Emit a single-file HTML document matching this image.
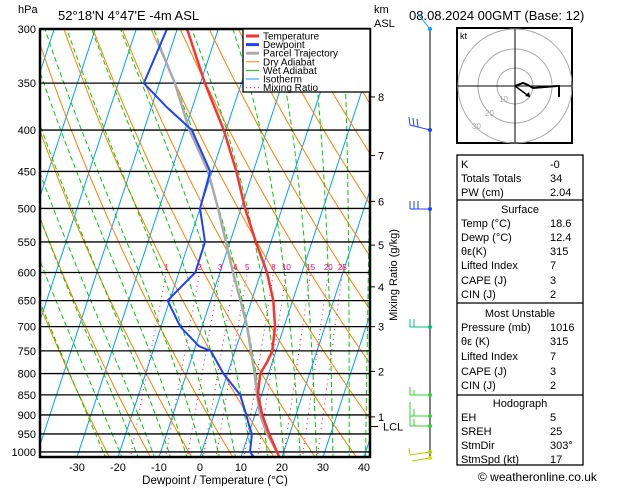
<!DOCTYPE html>
<html><head><meta charset="utf-8"><style>
body{margin:0;background:#fff;width:629px;height:486px;overflow:hidden}
svg text{font-family:"Liberation Sans",sans-serif}
</style></head><body>
<svg id="c" width="629" height="486" xmlns="http://www.w3.org/2000/svg">
<defs><clipPath id="plot"><rect x="40" y="29" width="330" height="428"/></clipPath></defs>
<g id="bg" clip-path="url(#plot)"></g>
<g id="fg"></g>
</svg>
<script>
const pressures=[1015,1000,950,900,850,800,775,750,700,650,600,550,500,450,400,350,300];
const tempVals=[19.3,18.4,15.0,11.8,9.1,8.0,8.7,9.1,7.8,5.3,1.5,-3.7,-9.0,-14.1,-20.5,-28.9,-37.6];
const dewP=[1015,1000,950,925,900,850,800,750,740,700,650,600,550,500,450,400,375,350,300];
const dewVals=[13.2,11.8,10.8,9.3,7.9,4.8,-1.0,-5.9,-9.2,-15.3,-20.5,-16.0,-16.1,-20.0,-20.5,-28.3,-36.2,-43.8,-42.5];
const parcelP=[1015,1000,950,900,850,800,700,650,600,550,500,450,400,350,310];
const parcelVals=[19.3,18.4,14.5,11.3,8.9,6.6,1.0,-2.7,-6.8,-11,-15.6,-21,-28.9,-36.2,-44];
const pTicks=[300,350,400,450,500,550,600,650,700,750,800,850,900,950,1000];
const tTicks=[-30,-20,-10,0,10,20,30,40];
const mixRatios=[1,2,3,4,5,8,10,15,20,25];
const kmLabels=[8,7,6,5,4,3,2,1];
const kmPress=[364,430,490,555,625,700,795,905];

const NS="http://www.w3.org/2000/svg";
const bg=document.getElementById('bg'),fg=document.getElementById('fg');
function yP(p){return 29+351.3*Math.log(p/300);}
function xT(t,p){return 200+4.1*t+0.33*(457-yP(p));}
function mk(par,tag,at){const e=document.createElementNS(NS,tag);for(const k in at)e.setAttribute(k,at[k]);par.appendChild(e);return e;}
function poly(par,pts,stroke,w,dash,name){const e=mk(par,'polyline',{points:pts.map(q=>q[0].toFixed(1)+','+q[1].toFixed(1)).join(' '),fill:'none',stroke:stroke,'stroke-width':w});if(dash)e.setAttribute('stroke-dasharray',dash);

return e;}
function txt(par,x,y,s,size,fill,anchor,name){const e=mk(par,'text',{x:x,y:y,'font-size':size,fill:fill||'#000','text-anchor':anchor||'start'});e.textContent=s;

return e;}
const levels=[];for(let p=1020;p>=295;p-=5)levels.push(p);
// isotherms
for(let t=-120;t<=50;t+=10){poly(bg,[[xT(t,1020),yP(1020)],[xT(t,295),yP(295)]],'#00a0ff',1,null,'isotherm');}
// dry adiabats
for(let th=250;th<=470;th+=10){poly(bg,levels.map(p=>[xT(th*Math.pow(p/1000,0.286)-273.15,p),yP(p)]),'#ff8000',1,null,'dry-adiabat');}
// wet adiabats
function es(t){return 6.112*Math.exp(17.67*t/(t+243.5));}
function moistLine(t0){const out=[];let T=t0+273.15;let p=1020;
 // first integrate from 1000 to 1020 approx
 const step=-2;let pts=[];
 function dTdp(T,p){const rs=0.622*es(T-273.15)/(p-es(T-273.15));const Rd=287,cp=1004,L=2.5e6;return (Rd*T+L*rs)/(p*(cp+L*L*rs*0.622/(Rd*T*T)));}
 // start at 1000
 T=t0+273.15;let Tb=T;for(let q=1000;q<1020;q+=2){Tb+=dTdp(Tb,q)*2;}
 pts.push([1020,Tb]);T=t0+273.15;pts.push([1000,T]);
 for(p=1000;p>295;p+=step){T+=dTdp(T,p)*step;pts.push([p+step,T]);}
 return pts.map(q=>[xT(q[1]-273.15,q[0]),yP(q[0])]);}
for(let t=-24;t<=40;t+=4){poly(bg,moistLine(t),'#00cc00',1,'5,3','wet-adiabat');}
// mixing ratio
function tdW(w,p){const e=w*p/(622+w);const l=Math.log(e/6.112);return 243.5*l/(17.67-l);}
mixRatios.forEach(w=>{poly(bg,[[xT(tdW(w,1020),1020),yP(1020)],[xT(tdW(w,600),600),yP(600)]],'#ff0080',1,'1,4','mixing-ratio-line');
 txt(fg,xT(tdW(w,600),600),270,String(w),8,'#ff0080','middle','mixing-ratio-label');});
// pressure lines
pTicks.forEach(p=>{const l=mk(fg,'line',{x1:40,x2:370,y1:yP(p),y2:yP(p),stroke:'#000','stroke-width':1.3});


 txt(fg,36,yP(p)+4,String(p),11,'#000','end','pressure-label');});
// profiles
poly(fg,parcelP.map((p,i)=>[xT(parcelVals[i],p),yP(p)]),'#aaaaaa',2.5,null,'parcel-trajectory');
poly(fg,pressures.map((p,i)=>[xT(tempVals[i],p),yP(p)]),'#ff3030',2.5,null,'temperature-line');
poly(fg,dewP.map((p,i)=>[xT(dewVals[i],p),yP(p)]),'#2040ff',2,null,'dewpoint-line');
// frame
const fr=mk(fg,'rect',{x:40,y:29,width:330,height:428,fill:'none',stroke:'#000','stroke-width':2.5});


tTicks.forEach(t=>{txt(fg,xT(t,1015),471,String(t),11,'#000','middle','x-tick-label');});
txt(fg,215,484,'Dewpoint / Temperature (°C)',11.5,'#000','middle','x-axis-title');
kmLabels.forEach((k,i)=>{const y=yP(kmPress[i]);const l=mk(fg,'line',{x1:370,x2:375,y1:y,y2:y,stroke:'#000'});


 txt(fg,378,y+4,String(k),11,'#000','start','km-label');});
{const y=yP(930);const l=mk(fg,'line',{x1:370,x2:378,y1:y,y2:y,stroke:'#000'});


txt(fg,383,y+4,'LCL',11,'#000','start','lcl-label');}
const mr=txt(fg,0,0,'Mixing Ratio (g/kg)',11,'#000','middle','mixing-ratio-axis-title');mr.setAttribute('transform','translate(397,275) rotate(-90)');
// legend
const lg=mk(fg,'g',{});
mk(lg,'rect',{x:243,y:29,width:127,height:63,fill:'#fff',stroke:'#000','stroke-width':1.3});
const legN=['Temperature','Dewpoint','Parcel Trajectory','Dry Adiabat','Wet Adiabat','Isotherm','Mixing Ratio'];
const legC=['#ff3030','#2040ff','#aaaaaa','#ff8000','#00cc00','#00a0ff','#ff0080'];
const legW=[3,3,3,1,1,1,1];
legN.forEach((n,i)=>{const y=36+i*8.6;const l=mk(lg,'line',{x1:246,x2:259,y1:y,y2:y,stroke:legC[i],'stroke-width':legW[i]});if(i==6)l.setAttribute('stroke-dasharray','1,3');


 txt(lg,263,y+3.5,n,10,'#000','start','legend-entry');});
</script>
<svg width="629" height="486" style="position:absolute;left:0;top:0" xmlns="http://www.w3.org/2000/svg">
<g font-family="Liberation Sans, sans-serif">
<text x="18" y="13" font-size="11">hPa</text>
<text x="58" y="20" font-size="13">52°18'N  4°47'E  -4m  ASL</text>
<text x="374" y="13" font-size="11">km</text>
<text x="374" y="27" font-size="11">ASL</text>
<text x="409" y="20" font-size="13">08.08.2024  00GMT  (Base: 12)</text>
<text x="478" y="481" font-size="12">© weatheronline.co.uk</text>
</g>
<g>
<line x1="430" y1="28" x2="430" y2="458" stroke="#000" stroke-width="1"/>
<line x1="430" y1="29" x2="418" y2="14" stroke="#00a0ff"/><circle cx="430" cy="29" r="2" fill="#00a0ff"/>
<line x1="430" y1="130" x2="410" y2="125" stroke="#2040ff"/><line x1="410" y1="125" x2="409" y2="117" stroke="#2040ff"/><line x1="414" y1="126" x2="413" y2="118" stroke="#2040ff"/><line x1="418" y1="127" x2="417" y2="119" stroke="#2040ff"/><circle cx="430" cy="130" r="2" fill="#2040ff"/>
<line x1="430" y1="209" x2="410" y2="209" stroke="#2040ff"/><line x1="410" y1="209" x2="410" y2="201" stroke="#2040ff"/><line x1="414" y1="209" x2="414" y2="201" stroke="#2040ff"/><line x1="418" y1="209" x2="418" y2="201" stroke="#2040ff"/><circle cx="430" cy="209" r="2" fill="#2040ff"/>
<line x1="430" y1="327" x2="410" y2="327" stroke="#00c080"/><line x1="410" y1="327" x2="410" y2="319" stroke="#00c080"/><line x1="414" y1="327" x2="414" y2="319" stroke="#00c080"/><circle cx="430" cy="327" r="2" fill="#00c080"/>
<line x1="430" y1="395" x2="410" y2="395" stroke="#30d030"/><line x1="410" y1="395" x2="410" y2="387" stroke="#30d030"/><line x1="414" y1="395" x2="414" y2="390" stroke="#30d030"/><circle cx="430" cy="395" r="2" fill="#30d030"/>
<line x1="430" y1="416" x2="410" y2="416" stroke="#30d030"/><line x1="410" y1="416" x2="410" y2="402" stroke="#30d030"/><line x1="414" y1="416" x2="414" y2="409" stroke="#30d030"/><circle cx="430" cy="416" r="2" fill="#30d030"/>
<line x1="430" y1="426" x2="410" y2="426" stroke="#30d030"/><line x1="410" y1="426" x2="410" y2="413" stroke="#30d030"/><line x1="414" y1="426" x2="414" y2="419" stroke="#30d030"/><circle cx="430" cy="426" r="2" fill="#30d030"/>
<line x1="430" y1="452" x2="410" y2="455" stroke="#b0d000"/><line x1="410" y1="455" x2="409" y2="448" stroke="#b0d000"/><line x1="430" y1="458" x2="412" y2="461" stroke="#b0d000"/><circle cx="430" cy="452" r="2" fill="#b0d000"/><circle cx="430" cy="458" r="2" fill="#e0e000"/>
</g>
<g>
<rect x="457" y="28" width="115" height="115" fill="#fff" stroke="#000" stroke-width="2"/>
<circle cx="515" cy="86" r="18" fill="none" stroke="#aaa"/><circle cx="515" cy="86" r="37" fill="none" stroke="#aaa"/><circle cx="515" cy="86" r="57" fill="none" stroke="#aaa"/>
<line x1="458" y1="86" x2="571" y2="86" stroke="#000"/><line x1="515" y1="29" x2="515" y2="142" stroke="#000"/>
<text x="460" y="39" font-size="9" font-family="Liberation Sans, sans-serif">kt</text>
<text x="499" y="102" font-size="8" fill="#aaa" font-family="Liberation Sans, sans-serif">10</text>
<text x="485" y="116" font-size="8" fill="#aaa" font-family="Liberation Sans, sans-serif">20</text>
<text x="472" y="129" font-size="8" fill="#aaa" font-family="Liberation Sans, sans-serif">30</text>
<polyline points="515,86 523,83 528,85 533,88 557,86 559,86 559,97" fill="none" stroke="#000" stroke-width="2"/>
<line x1="515" y1="86" x2="530" y2="97" stroke="#000" stroke-width="1.5"/><polygon points="530,97 525,96 529,92" fill="#000"/>
</g>
<g font-family="Liberation Sans, sans-serif" font-size="11">
<rect x="457" y="155" width="126" height="310" fill="none" stroke="#000" stroke-width="1.3"/>
<line x1="457" y1="200" x2="583" y2="200" stroke="#000" stroke-width="1.3"/>
<line x1="457" y1="303" x2="583" y2="303" stroke="#000" stroke-width="1.3"/>
<line x1="457" y1="395" x2="583" y2="395" stroke="#000" stroke-width="1.3"/>
<text x="461" y="168">K</text><text x="550" y="168">-0</text>
<text x="461" y="182">Totals Totals</text><text x="550" y="182">34</text>
<text x="461" y="196">PW (cm)</text><text x="550" y="196">2.04</text>
<text x="520" y="213" text-anchor="middle">Surface</text>
<text x="461" y="227">Temp (°C)</text><text x="550" y="227">18.6</text>
<text x="461" y="241">Dewp (°C)</text><text x="550" y="241">12.4</text>
<text x="461" y="255">θε(K)</text><text x="550" y="255">315</text>
<text x="461" y="269">Lifted Index</text><text x="550" y="269">7</text>
<text x="461" y="284">CAPE (J)</text><text x="550" y="284">3</text>
<text x="461" y="298">CIN (J)</text><text x="550" y="298">2</text>
<text x="520" y="317" text-anchor="middle">Most Unstable</text>
<text x="461" y="331">Pressure (mb)</text><text x="550" y="331">1016</text>
<text x="461" y="345">θε (K)</text><text x="550" y="345">315</text>
<text x="461" y="360">Lifted Index</text><text x="550" y="360">7</text>
<text x="461" y="375">CAPE (J)</text><text x="550" y="375">3</text>
<text x="461" y="389">CIN (J)</text><text x="550" y="389">2</text>
<text x="520" y="407" text-anchor="middle">Hodograph</text>
<text x="461" y="421">EH</text><text x="550" y="421">5</text>
<text x="461" y="435">SREH</text><text x="550" y="435">25</text>
<text x="461" y="449">StmDir</text><text x="550" y="449">303°</text>
<text x="461" y="463">StmSpd (kt)</text><text x="550" y="463">17</text>
</g>
</svg>
</body></html>
